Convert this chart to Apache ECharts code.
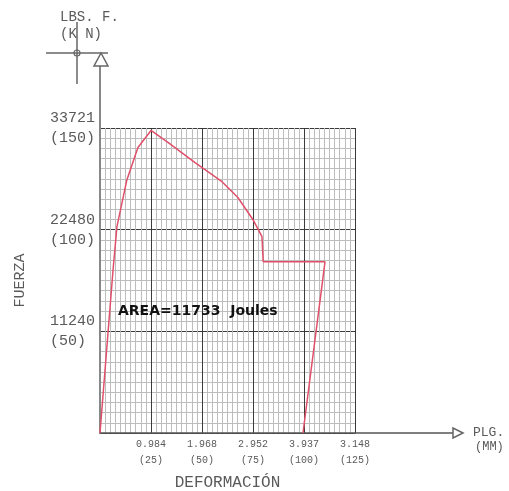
<!DOCTYPE html>
<html>
<head>
<meta charset="utf-8">
<script src="https://cdn.jsdelivr.net/npm/echarts@6/dist/echarts.min.js"></script>
<style>html,body{margin:0;padding:0;background:#fff;}#c{width:509px;height:491px;}</style>
</head>
<body>
<div id="c"></div>
<script>
// Deformation (mm) and force (kN)
var deformMM = [0, 6.4, 8.3, 13.2, 18.6, 25.0, 33.3, 46.6, 59.8, 67.6, 75.0, 79.4, 80.0, 110.3, 99.5];
var forceKN  = [0, 80.3, 101.5, 124.6, 140.4, 148.8, 142.9, 133.0, 123.6, 115.8, 104.9, 96.6, 84.2, 84.2, 0];

// Tick labels
var xTickIn = ['0.984', '1.968', '2.952', '3.937', '3.148'];
var xTickMM = ['(25)', '(50)', '(75)', '(100)', '(125)'];
var yTickLbs = ['11240', '22480', '33721'];
var yTickKN  = ['(50)', '(100)', '(150)'];

var areaText = 'AREA=11733  Joules';

var pts = deformMM.map(function (x, i) { return [x, forceKN[i]]; });
function pad(s, n) { while (s.length < n) s += ' '; return s; }

var txtColor = '#5a5a5a';
var mono = 'Liberation Mono';

var chart = echarts.init(document.getElementById('c'));
chart.setOption({
  animation: false,
  backgroundColor: '#fff',
  grid: { left: 100, top: 128, right: 154, bottom: 58, containLabel: false, outerBoundsMode: 'none' },
  xAxis: {
    type: 'value', min: 0, max: 125, interval: 25,
    name: 'DEFORMACIÓN', nameLocation: 'middle', nameGap: 42,
    nameTextStyle: { color: txtColor, fontFamily: mono, fontSize: 16 },
    axisLine: { show: true, lineStyle: { color: '#555', width: 1.5 } },
    axisTick: { show: false },
    axisLabel: {
      margin: 3, color: txtColor, fontFamily: mono, fontSize: 10, lineHeight: 16,
      formatter: function (v) {
        var i = Math.round(v / 25) - 1;
        if (i < 0 || i >= xTickIn.length) return '';
        return xTickIn[i] + '\n' + xTickMM[i];
      }
    },
    splitLine: { show: true, lineStyle: { color: '#3a3a3a', width: 1 } },
    minorTick: { show: false, splitNumber: 10 },
    minorSplitLine: { show: true, lineStyle: { color: '#bdbdbd', width: 1 } }
  },
  yAxis: {
    type: 'value', min: 0, max: 150, interval: 50,
    name: 'FUERZA', nameLocation: 'middle', nameGap: 72, nameRotate: 90,
    nameTextStyle: { color: txtColor, fontFamily: mono, fontSize: 15 },
    axisLine: { show: true, lineStyle: { color: '#888', width: 2 } },
    axisTick: { show: false },
    axisLabel: {
      margin: 5, color: txtColor, fontFamily: mono, fontSize: 15, lineHeight: 20, align: 'right',
      formatter: function (v) {
        var i = Math.round(v / 50) - 1;
        if (i < 0 || i >= yTickLbs.length) return '';
        var w = Math.max(yTickLbs[i].length, yTickKN[i].length);
        return pad(yTickLbs[i], w) + '\n' + pad(yTickKN[i], w);
      }
    },
    splitLine: { show: true, lineStyle: { color: '#3a3a3a', width: 1 } },
    minorTick: { show: false, splitNumber: 10 },
    minorSplitLine: { show: true, lineStyle: { color: '#bdbdbd', width: 1 } }
  },
  series: [{
    type: 'line', data: pts, symbol: 'none', smooth: false,
    lineStyle: { color: '#e0506a', width: 1.5 }, z: 5
  }],
  graphic: [
    { type: 'line', shape: { x1: 100, y1: 66, x2: 100, y2: 128 }, style: { stroke: '#888', lineWidth: 2 } },
    { type: 'line', shape: { x1: 77, y1: 22, x2: 77, y2: 84 }, style: { stroke: '#666', lineWidth: 1.5 } },
    { type: 'line', shape: { x1: 46, y1: 53, x2: 108, y2: 53 }, style: { stroke: '#666', lineWidth: 1.5 } },
    { type: 'circle', shape: { cx: 77, cy: 53, r: 3 }, style: { stroke: '#666', fill: 'none', lineWidth: 1.2 } },
    { type: 'polygon', shape: { points: [[101, 53], [94, 66], [108, 66]] }, style: { stroke: '#666', fill: '#fff', lineWidth: 1.5 } },
    { type: 'line', shape: { x1: 355, y1: 433, x2: 453, y2: 433 }, style: { stroke: '#555', lineWidth: 1.5 } },
    { type: 'polygon', shape: { points: [[463, 433], [453, 428], [453, 438]] }, style: { stroke: '#666', fill: '#fff', lineWidth: 1.5 } },
    { type: 'text', left: 60, top: 10, style: { text: 'LBS. F.', fill: txtColor, font: '14px "Liberation Mono"' } },
    { type: 'text', left: 60, top: 27, style: { text: '(K N)', fill: txtColor, font: '14px "Liberation Mono"' } },
    { type: 'text', left: 473, top: 426, style: { text: 'PLG.', fill: txtColor, font: '13px "Liberation Mono"' } },
    { type: 'text', left: 475, top: 441, style: { text: '(MM)', fill: txtColor, font: '12px "Liberation Mono"' } },
    { type: 'text', left: 118, top: 304, z: 10, style: { text: areaText, fill: '#111', font: 'bold 14px "DejaVu Sans"' } }
  ]
});
</script>
</body>
</html>
